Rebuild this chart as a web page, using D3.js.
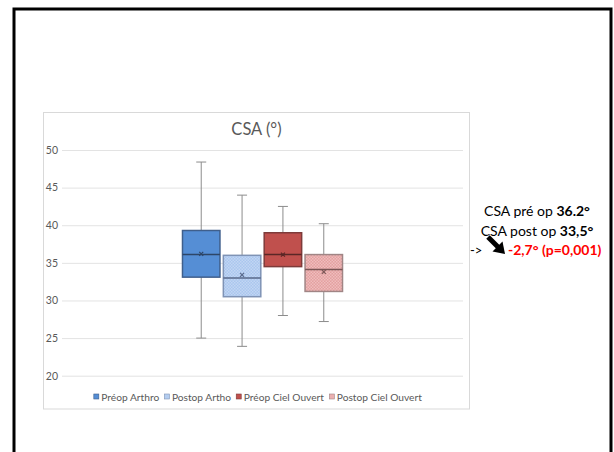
<!DOCTYPE html>
<html><head><meta charset="utf-8">
<script src="https://cdn.jsdelivr.net/npm/d3@7"></script>
<style>
html,body{margin:0;padding:0;background:#fff;}
svg{display:block;font-family:Lato, "Open Sans", sans-serif;}
</style></head>
<body>
<svg id="c" width="614" height="452"></svg>
<script>
// ---- data ----
const title = "CSA (°)";
const series = ["Préop Arthro", "Postop Artho", "Préop Ciel Ouvert", "Postop Ciel Ouvert"];
const whiskerLow  = [25.0, 23.9, 28.0, 27.2];
const q1          = [33.1, 30.5, 34.5, 31.2];
const median      = [36.1, 33.0, 36.1, 34.1];
const q3          = [39.3, 36.0, 39.0, 36.1];
const whiskerHigh = [48.4, 44.0, 42.5, 40.2];
const means       = [36.2, 33.4, 36.1, 33.8];
const yTicks = [20, 25, 30, 35, 40, 45, 50];
const noteLine1 = ["CSA pré op ", "36.2°"];
const noteLine2 = ["CSA post op ", "33,5°"];
const noteArrowText = "->";
const noteDiff = "-2,7° (p=0,001)";

// ---- styles ----
const fills   = ["#558ED5", "url(#patBlue)", "#C0504D", "url(#patRed)"];
const legendFills = ["#558ED5", "#B4CDF0", "#C0504D", "#EBB0B0"];
const strokes = ["#3F5F8C", "#7F93B5", "#7E3B3A", "#A08585"];
const medianCol = ["#2E4667", "#59698A", "#5A2726", "#7A5555"];

const svg = d3.select("#c");
const defs = svg.append("defs");
function checker(id, a, b) {
  const p = defs.append("pattern").attr("id", id).attr("patternUnits", "userSpaceOnUse")
    .attr("width", 3).attr("height", 3);
  p.append("rect").attr("width", 3).attr("height", 3).attr("fill", a);
  p.append("rect").attr("width", 1.5).attr("height", 1.5).attr("fill", b);
  p.append("rect").attr("x", 1.5).attr("y", 1.5).attr("width", 1.5).attr("height", 1.5).attr("fill", b);
}
checker("patBlue", "#AAC6EE", "#C2D6F3");
checker("patRed", "#E3A0A0", "#EFBDBD");

// outer frame
svg.append("path").attr("d", "M14,452 V9 H611 V452")
  .attr("fill", "none").attr("stroke", "#000").attr("stroke-width", 3);

// chart area
svg.append("rect").attr("x", 43.5).attr("y", 112.5).attr("width", 426).attr("height", 296.5)
  .attr("fill", "#fff").attr("stroke", "#D9D9D9").attr("stroke-width", 1);

const plot = {left: 62, right: 463, top: 150, bottom: 375.7};
const y = d3.scaleLinear().domain([20, 50]).range([plot.bottom, plot.top]);
const group = d3.scaleBand().domain(["CSA"]).range([plot.left, plot.right]).paddingOuter(0.753).paddingInner(0);
const x = d3.scaleBand().domain(series).range([group("CSA"), group("CSA") + group.bandwidth()]).paddingInner(0.083);

// title
svg.append("text").attr("x", (plot.left + plot.right) / 2 - 6).attr("y", 135)
  .attr("text-anchor", "middle").attr("font-size", 16.5).attr("fill", "#595959").text(title);

// grid + y axis
const yAxis = d3.axisLeft(y).tickValues(yTicks).tickSize(-(plot.right - plot.left)).tickPadding(4);
const ga = svg.append("g").attr("transform", `translate(${plot.left},0)`).call(yAxis);
ga.select(".domain").remove();
ga.selectAll(".tick line").attr("stroke", "#E3E3E3").attr("stroke-width", 1);
ga.selectAll(".tick text").attr("fill", "#595959").attr("font-size", 10.5).attr("font-family", "Lato");

// boxes
const data = series.map((s, i) => ({s, i, lo: whiskerLow[i], q1: q1[i], med: median[i], q3: q3[i], hi: whiskerHigh[i], mean: means[i]}));
const cap = 5;
const g = svg.append("g").selectAll("g").data(data).join("g");
g.append("line").attr("x1", d => x(d.s) + x.bandwidth() / 2).attr("x2", d => x(d.s) + x.bandwidth() / 2)
  .attr("y1", d => y(d.hi)).attr("y2", d => y(d.lo)).attr("stroke", "#8C8C8C").attr("stroke-width", 1);
g.append("line").attr("x1", d => x(d.s) + x.bandwidth() / 2 - cap).attr("x2", d => x(d.s) + x.bandwidth() / 2 + cap)
  .attr("y1", d => y(d.hi)).attr("y2", d => y(d.hi)).attr("stroke", "#8C8C8C");
g.append("line").attr("x1", d => x(d.s) + x.bandwidth() / 2 - cap).attr("x2", d => x(d.s) + x.bandwidth() / 2 + cap)
  .attr("y1", d => y(d.lo)).attr("y2", d => y(d.lo)).attr("stroke", "#8C8C8C");
g.append("rect").attr("x", d => x(d.s)).attr("width", x.bandwidth())
  .attr("y", d => y(d.q3)).attr("height", d => y(d.q1) - y(d.q3))
  .attr("fill", d => fills[d.i]).attr("stroke", d => strokes[d.i]).attr("stroke-width", 1.5);
g.append("line").attr("x1", d => x(d.s)).attr("x2", d => x(d.s) + x.bandwidth())
  .attr("y1", d => y(d.med)).attr("y2", d => y(d.med)).attr("stroke", d => medianCol[d.i]).attr("stroke-width", 1.5);
const m = 2;
g.append("path").attr("d", d => {
  const cx = x(d.s) + x.bandwidth() / 2, cy = y(d.mean);
  return `M${cx - m},${cy - m}L${cx + m},${cy + m}M${cx - m},${cy + m}L${cx + m},${cy - m}`;
}).attr("stroke", d => medianCol[d.i]).attr("stroke-width", 1.2).attr("fill", "none");

// legend
const lg = svg.append("g");
const items = lg.selectAll("g").data(series).join("g");
items.append("rect").attr("width", 5).attr("height", 5).attr("y", -4)
  .attr("fill", (d, i) => legendFills[i]).attr("stroke", (d, i) => strokes[i]).attr("stroke-width", 0.6);
items.append("text").attr("x", 7.5).attr("y", 0.5).attr("font-size", 10.2).attr("fill", "#595959")
  .attr("dominant-baseline", "middle").attr("dy", "-0.05em").text(d => d);
let cx = 0;
const widths = [];
items.each(function () { widths.push(this.getBBox().width); });
const totalW = d3.sum(widths) + 5 * (widths.length - 1);
cx = 258 - totalW / 2;
items.attr("transform", (d, i) => {
  const t = `translate(${cx},398)`;
  cx += widths[i] + 5;
  return t;
});

// annotation
const note = svg.append("g").attr("font-size", 14).attr("fill", "#000");
const t1 = note.append("text").attr("x", 537).attr("y", 216).attr("text-anchor", "middle");
t1.append("tspan").text(noteLine1[0]);
t1.append("tspan").attr("font-weight", "bold").text(noteLine1[1]);
const t2 = note.append("text").attr("x", 537).attr("y", 236).attr("text-anchor", "middle");
t2.append("tspan").text(noteLine2[0]);
t2.append("tspan").attr("font-weight", "bold").text(noteLine2[1]);
note.append("text").attr("x", 470).attr("y", 255).attr("font-size", 13).text(noteArrowText);
note.append("text").attr("x", 508).attr("y", 255).attr("font-weight", "bold").attr("fill", "#FF0000").text(noteDiff);
// black arrow
svg.append("line").attr("x1", 488).attr("y1", 237).attr("x2", 498).attr("y2", 247)
  .attr("stroke", "#000").attr("stroke-width", 5);
svg.append("path").attr("d", "M505,254 L502.5,241.5 L492.5,251.5 Z").attr("fill", "#000");
</script>
</body></html>
